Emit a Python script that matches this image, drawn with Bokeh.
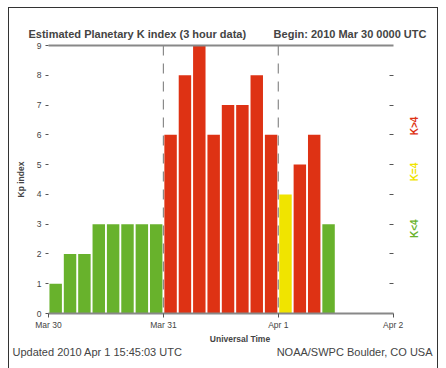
from bokeh.plotting import figure
from bokeh.models import Span, LinearAxis, FixedTicker, ColumnDataSource, Title
from bokeh.embed import file_html
from bokeh.resources import INLINE

# 3-hour Kp values (Mar 30 00 UTC onward)
kp_values = [1, 2, 2, 3, 3, 3, 3, 3,
             6, 8, 9, 6, 7, 7, 8, 6,
             4, 5, 6, 3]
day_ticks = [0, 24, 48, 72]
day_labels = ["Mar 30", "Mar 31", "Apr 1", "Apr 2"]
y_ticks = list(range(0, 10))
legend_text = ["K>4", "K=4", "K<4"]
legend_y = [6.3, 4.75, 2.85]

RED, YEL, GRN = "#de3214", "#f0e400", "#68b22c"

def kp_color(k):
    return GRN if k < 4 else (YEL if k == 4 else RED)

hours = [1.5 + 3 * i for i in range(len(kp_values))]
src = ColumnDataSource(dict(x=hours, top=kp_values, color=[kp_color(k) for k in kp_values]))

NB = "\u00a0"
p = figure(width=430, height=362, x_range=(0, 80), y_range=(0, 9),
           output_backend="svg", toolbar_location=None,
           min_border_left=39, min_border_right=8, min_border_top=37, min_border_bottom=57)
p.styles = {"border": "1px solid #333", "box-sizing": "border-box",
            "margin-left": "8px", "margin-top": "7px"}
p.background_fill_color = "white"
p.border_fill_color = "white"
p.outline_line_color = None
p.grid.visible = False

p.vbar(x="x", top="top", bottom=0, width=2.6, color="color", line_color=None, source=src)

for d in day_ticks[1:3]:
    p.add_layout(Span(location=d, dimension="height", line_color="#8a8a8a",
                      line_width=1.2, line_dash="10 8"))

# right-hand colour key
p.text(x=[76.4] * 3, y=legend_y, text=legend_text, angle=1.5708,
       text_color=[RED, YEL, GRN], text_font_size="10px", text_font_style="bold",
       text_align="center", text_baseline="middle")

xa = p.xaxis[0]
xa.ticker = FixedTicker(ticks=day_ticks)
xa.bounds = (0, 72)
xa.major_label_overrides = {t: l for t, l in zip(day_ticks, day_labels)}
xa.axis_label = "Universal Time"
xa.axis_line_color = "#888888"
xa.axis_line_width = 2
xa.major_tick_in = 0
xa.major_tick_out = 4
xa.major_tick_line_color = "#555555"
xa.minor_tick_line_color = None
xa.major_label_text_font_size = "8.5px"
xa.axis_label_text_font_size = "8.5px"
xa.axis_label_text_font_style = "bold"
xa.axis_label_standoff = 1
xa.major_label_standoff = 2

ya = p.yaxis[0]
ya.ticker = FixedTicker(ticks=y_ticks)
ya.axis_label = "Kp index"
ya.axis_line_color = None
ya.major_tick_in = 0
ya.major_tick_out = 3
ya.major_tick_line_color = "#555555"
ya.minor_tick_line_color = None
ya.major_label_text_font_size = "8.5px"
ya.axis_label_text_font_size = "8.5px"
ya.axis_label_text_font_style = "bold"
ya.axis_label_standoff = 8
ya.major_label_standoff = 4

# right tick marks at the end of the time axis
ra = LinearAxis(ticker=FixedTicker(ticks=y_ticks[1:9]), fixed_location=72)
ra.axis_line_color = None
ra.major_label_overrides = {t: "" for t in y_ticks}
ra.major_tick_in = 4
ra.major_tick_out = 0
ra.major_tick_line_color = "#555555"
ra.minor_tick_line_color = None
p.add_layout(ra, "right")

# top frame line
ta = LinearAxis(ticker=FixedTicker(ticks=[]), bounds=(0, 72))
ta.axis_line_color = "#888888"
ta.axis_line_width = 2
ta.major_tick_line_color = None
ta.minor_tick_line_color = None
p.add_layout(ta, "above")

p.add_layout(Title(text="Estimated Planetary K index (3 hour data)" + NB * 9 + "Begin: 2010 Mar 30 0000 UTC",
                   align="left", offset=-20, standoff=11,
                   text_font_size="11px", text_font_style="bold"), "above")
p.add_layout(Title(text="Updated 2010 Apr 1 15:45:03 UTC" + NB * 31 + "NOAA/SWPC Boulder, CO USA",
                   align="left", offset=-36, standoff=-5,
                   text_font_size="11px", text_font_style="normal"), "below")

open("out.html", "w").write(file_html(p, INLINE))
